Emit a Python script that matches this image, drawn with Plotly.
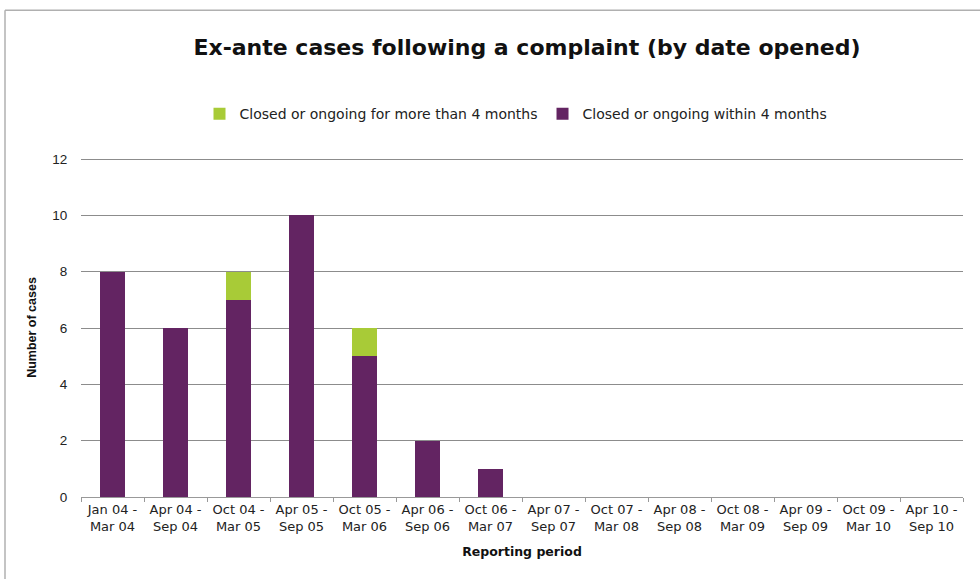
import plotly.graph_objects as go

periods = ["Jan 04 -<br>Mar 04", "Apr 04 -<br>Sep 04", "Oct 04 -<br>Mar 05", "Apr 05 -<br>Sep 05",
           "Oct 05 -<br>Mar 06", "Apr 06 -<br>Sep 06", "Oct 06 -<br>Mar 07", "Apr 07 -<br>Sep 07",
           "Oct 07 -<br>Mar 08", "Apr 08 -<br>Sep 08", "Oct 08 -<br>Mar 09", "Apr 09 -<br>Sep 09",
           "Oct 09 -<br>Mar 10", "Apr 10 -<br>Sep 10"]
within_4_months = [8, 6, 7, 10, 5, 2, 1, 0, 0, 0, 0, 0, 0, 0]
over_4_months = [0, 0, 1, 0, 1, 0, 0, 0, 0, 0, 0, 0, 0, 0]

PURPLE = "#632462"
GREEN = "#a8cb37"
FONT = "DejaVu Sans, Liberation Sans, Arial, sans-serif"
FONT_NARROW = "Liberation Sans, Arial, sans-serif"

fig = go.Figure()
fig.add_trace(go.Bar(x=periods, y=within_4_months, name="Closed or ongoing within 4 months",
                     marker_color=PURPLE, marker_line_width=0))
fig.add_trace(go.Bar(x=periods, y=over_4_months, name="Closed or ongoing for more than 4 months",
                     marker_color=GREEN, marker_line_width=0))

W, H = 980, 579
L, R, B = 81, 17, 82
TOP_GRID = 159          # pixel row of the 12 gridline
YMAX = 12.04
ph = (H - B - TOP_GRID) * YMAX / 12
T = int(round(H - B - ph))
pw = W - L - R

def px_x(px):
    return (px - L) / pw

def px_y(py):
    return (H - B - py) / ph

fig.update_layout(
    width=W, height=H,
    margin=dict(l=L, r=R, t=T, b=B, autoexpand=False),
    barmode="stack",
    bargap=0.59,
    paper_bgcolor="white",
    plot_bgcolor="white",
    font=dict(family=FONT, size=13, color="#222222"),
    title=dict(text="<b>Ex-ante cases following a complaint (by date opened)</b>",
               x=px_x(527), xref="paper", xanchor="center",
               y=1 - 47 / H, yanchor="middle",
               font=dict(size=22, color="#111111", family=FONT)),
    legend=dict(orientation="h", traceorder="reversed",
                x=px_x(516), xanchor="center", y=px_y(114), yanchor="middle",
                font=dict(size=14, color="#222222"),
                itemwidth=30, itemsizing="constant"),
    showlegend=True,
    xaxis=dict(
        type="category",
        tickson="boundaries",
        tickangle=0,
        automargin=False,
        ticks="outside", ticklen=4, tickcolor="#999999",
        showline=True, linecolor="#999999", linewidth=1,
        showgrid=False,
        tickfont=dict(size=13, color="#222222"),
        title=dict(text="<b>Reporting period</b>", font=dict(size=12.5, color="#111111"), standoff=14),
    ),
    yaxis=dict(
        range=[0, YMAX], tickvals=[0, 2, 4, 6, 8, 10, 12],
        automargin=False,
        showgrid=True, gridcolor="#8c8c8c", gridwidth=1,
        zeroline=False,
        showline=False,
        ticks="outside", ticklen=10, tickcolor="rgba(0,0,0,0)",
        tickfont=dict(size=13.5, color="#222222", family=FONT_NARROW),
        title=dict(text="<b>Number of cases</b>",
                   font=dict(size=12.5, color="#111111", family=FONT_NARROW), standoff=12),
    ),
)

# Outer frame of the chart area (top and left edges)
fig.add_shape(type="line", xref="paper", yref="paper",
              x0=px_x(5), x1=px_x(990), y0=px_y(10), y1=px_y(10),
              line=dict(color="#b0b0b0", width=1.5))
fig.add_shape(type="line", xref="paper", yref="paper",
              x0=px_x(5), x1=px_x(5), y0=px_y(10), y1=px_y(590),
              line=dict(color="#b0b0b0", width=1.5))

fig.write_html("out.html")
